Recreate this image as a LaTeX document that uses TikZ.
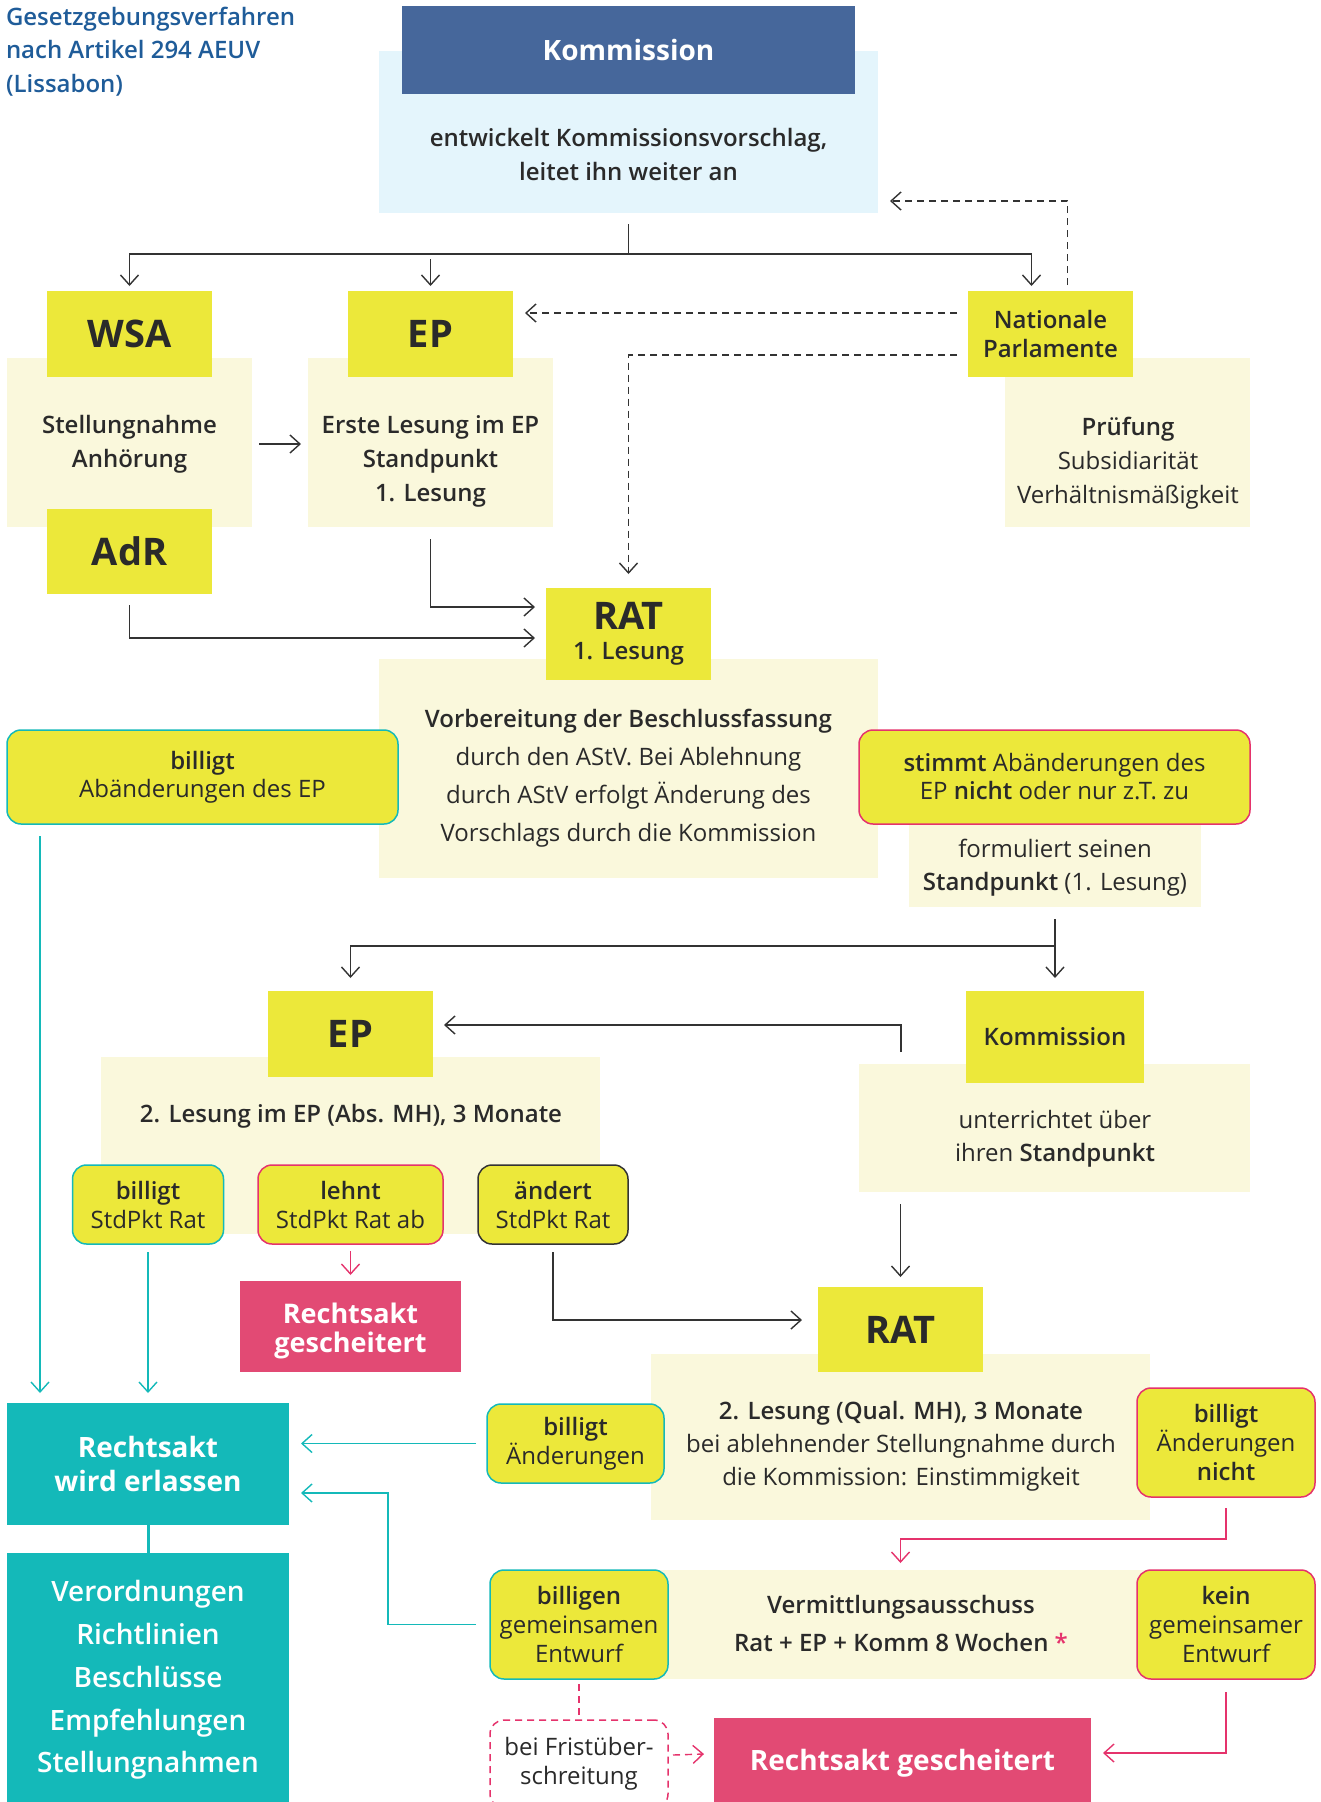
\documentclass[tikz,border=0pt]{standalone}
\usepackage{fontspec}
\setmainfont{Open Sans}
\newfontfamily\halb{Open Sans Semibold}
\usetikzlibrary{arrows.meta,calc}

\definecolor{gelb}{HTML}{ECE83A}
\definecolor{hellgelb}{HTML}{FAF8DC}
\definecolor{hellblau}{HTML}{E4F5FC}
\definecolor{dunkelblau}{HTML}{46679B}
\definecolor{tuerkis}{HTML}{14B9B9}
\definecolor{rot}{HTML}{E24A74}
\definecolor{rotlinie}{HTML}{E5336C}
\definecolor{titelblau}{HTML}{1F5C99}
\definecolor{schrift}{HTML}{2A2A2A}
\definecolor{linie}{HTML}{333333}

\newcommand{\fs}[2]{\fontsize{#1}{#2}\selectfont}
\newcommand{\sbf}[1]{{\halb #1}}

\begin{document}
\begin{tikzpicture}[x=1pt,y=-1pt,
    every node/.style={inner sep=0pt, outer sep=0pt, text=schrift},
    gr/.style 2 args={minimum width=#1pt, minimum height=#2pt},
    feld/.style={rectangle, fill=hellgelb},
    kasten/.style={rectangle, fill=gelb, align=center},
    gross/.style={kasten, font=\fs{38}{30}\bfseries},
    beschr/.style={align=center, font=\fs{24}{34}},
    wahl/.style={rectangle, rounded corners=14pt, fill=gelb, line width=1.5pt, align=center, font=\fs{24}{29}},
    weiss/.style={align=center, text=white, font=\fs{28}{34}\bfseries},
    lin/.style={draw=linie, line width=1.4pt},
    pfeil/.style={lin, -{Straight Barb[length=10pt,width=18pt]}},
    pfeilt/.style={pfeil, draw=tuerkis},
    pfeilr/.style={pfeil, draw=rotlinie},
    gestr/.style={dash pattern=on 7pt off 5pt}
  ]

  \useasboundingbox (0,0) rectangle (1321,1802);
  \clip (0,0) rectangle (1321,1802);

  % Titel
  \node[anchor=north west, align=left, text=titelblau, font=\fs{24}{33.5}\halb] (titel) at (6,7)
    {Gesetzgebungsverfahren\\nach Artikel 294 AEUV\\(Lissabon)};

  % Kommission oben
  \node[rectangle, fill=hellblau, gr={499}{162}] (komback) at (628.5,132) {};
  \node[kasten, fill=dunkelblau, gr={453}{88}, text=white, font=\fs{28}{34}\bfseries] (komhead) at (628.5,50) {Kommission};
  \node[beschr, font=\fs{24}{34}\halb] (komtext) at (628.5,154) {entwickelt Kommissionsvorschlag,\\leitet ihn weiter an};

  % erste Reihe
  \node[feld, gr={245}{169}] (wsaback) at (129.5,442.5) {};
  \node[feld, gr={245}{169}] (epback) at (430.5,442.5) {};
  \node[feld, gr={245}{169}] (npback) at (1127.5,442.5) {};
  \node[gross, gr={165}{86}] (wsa) at (129.5,334) {WSA};
  \node[gross, gr={165}{85}] (adr) at (129.5,551.5) {AdR};
  \node[gross, gr={165}{86}] (ep1) at (430.5,334) {EP};
  \node[kasten, gr={165}{86}, font=\fs{24}{29}\halb] (np) at (1050.5,334) {Nationale\\Parlamente};
  \node[beschr, font=\fs{24}{34}\halb] (wsatext) at (129.5,444) {Stellungnahme\\Anhörung};
  \node[beschr, font=\fs{24}{34}\halb] (eptext) at (430.5,461) {Erste Lesung im EP\\Standpunkt\\1. Lesung};
  \node[beschr] (nptext) at (1128,463) {\sbf{Prüfung}\\Subsidiarität\\Verhältnismäßigkeit};

  % Rat 1. Lesung
  \node[feld, gr={499}{219}] (ratback) at (628.5,768.5) {};
  \node[feld, gr={292}{107}] (formback) at (1055,853.5) {};
  \node[gross, gr={165}{92}] (rat1) at (628.5,634) {RAT\\\mdseries\halb\fs{24}{31}1. Lesung};
  \node[beschr, font=\fs{24}{38}] (rattext) at (628.5,778)
    {\sbf{Vorbereitung der Beschlussfassung}\\durch den AStV. Bei Ablehnung\\durch AStV erfolgt Änderung des\\Vorschlags durch die Kommission};
  \node[wahl, draw=tuerkis, gr={391}{94}, font=\fs{24}{28}] (billigt1) at (202.5,777) {\sbf{billigt}\\Abänderungen des EP};
  \node[wahl, draw=rotlinie, gr={391}{94}, font=\fs{24}{28}] (stimmt) at (1054.5,777)
    {\sbf{stimmt} Abänderungen des\\EP \sbf{nicht} oder nur z.T. zu};
  \node[beschr, font=\fs{24}{33}] (formtext) at (1055,867.5) {formuliert seinen\\\sbf{Standpunkt} (1. Lesung)};

  % EP 2. Lesung und Kommission
  \node[feld, gr={499}{177}] (ep2back) at (350.5,1145.5) {};
  \node[feld, gr={391}{128}] (kom2back) at (1054.5,1128) {};
  \node[gross, gr={165}{86}] (ep2) at (350.5,1034) {EP};
  \node[kasten, gr={178}{92}, font=\fs{24}{29}\halb] (kom2) at (1055,1037) {Kommission};
  \node[beschr, font=\fs{24}{34}\halb] (ep2text) at (351,1116) {2. Lesung im EP (Abs. MH), 3 Monate};
  \node[beschr, font=\fs{24}{33}] (kom2text) at (1055,1138.5) {unterrichtet über\\ihren \sbf{Standpunkt}};
  \node[wahl, draw=tuerkis, gr={151}{79}] (bStd) at (148,1204.5) {\sbf{billigt}\\StdPkt Rat};
  \node[wahl, draw=rotlinie, gr={185}{79}] (lStd) at (350.5,1204.5) {\sbf{lehnt}\\StdPkt Rat ab};
  \node[wahl, draw=linie, gr={150}{79}] (aStd) at (553,1204.5) {\sbf{ändert}\\StdPkt Rat};
  \node[rectangle, fill=rot, gr={221}{91}, weiss, font=\fs{27}{29}\bfseries] (fail1) at (350.5,1326.5) {};
  \node[weiss, font=\fs{27}{29}\bfseries] (fail1text) at (350.5,1331) {Rechtsakt\\gescheitert};

  % Rat 2. Lesung
  \node[feld, gr={499}{166}] (rat2back) at (900.5,1437) {};
  \node[gross, gr={165}{85}] (rat2) at (900.5,1329.5) {RAT};
  \node[beschr, font=\fs{24}{33}] (rat2text) at (901,1446)
    {\sbf{2. Lesung (Qual. MH), 3 Monate}\\bei ablehnender Stellungnahme durch\\die Kommission: Einstimmigkeit};
  \node[wahl, draw=tuerkis, gr={177}{79}] (bAend) at (575.5,1443.5) {\sbf{billigt}\\Änderungen};
  \node[wahl, draw=rotlinie, gr={178}{109}] (bNicht) at (1226,1442.5) {\sbf{billigt}\\Änderungen\\\sbf{nicht}};

  % Ergebnis
  \node[rectangle, fill=tuerkis, gr={282}{122}, weiss] (erlassen) at (148,1464) {Rechtsakt\\wird erlassen};
  \node[rectangle, fill=tuerkis, gr={282}{255}, weiss, font=\fs{28}{42.75}\halb] (formen) at (148,1680)
    {Verordnungen\\Richtlinien\\Beschlüsse\\Empfehlungen\\Stellungnahmen};

  % Vermittlungsausschuss
  \node[feld, gr={550}{109}] (vermback) at (875,1624.5) {};
  \node[beschr, font=\fs{24}{38}\halb] (vermtext) at (901,1623)
    {Vermittlungsausschuss\\Rat + EP + Komm 8 Wochen {\color{rotlinie}*}};
  \node[wahl, draw=tuerkis, gr={178}{109}] (bGem) at (579,1624.5) {\sbf{billigen}\\gemeinsamen\\Entwurf};
  \node[wahl, draw=rotlinie, gr={178}{109}] (kein) at (1226,1624.5) {\sbf{kein}\\gemeinsamer\\Entwurf};
  \node[wahl, fill=white, draw=rotlinie, gestr, gr={178}{88}] (frist) at (579,1764) {bei Fristüber-\\schreitung};
  \node[rectangle, fill=rot, gr={377}{90}, weiss] (fail2) at (902.5,1763) {Rechtsakt gescheitert};

  % Verbindungen oben
  \draw[lin] ($(komback.south)+(0,11)$) -- ++(0,30) coordinate (verteiler);
  \draw[pfeil] (verteiler) -| ($(wsa.north)+(0,-5)$);
  \draw[pfeil] (verteiler) -| ($(np.north)+(-19,-5)$);
  \draw[pfeil] ($(ep1.north)+(0,-32)$) -- ($(ep1.north)+(0,-5)$);
  \draw[pfeil, gestr] ($(np.north)+(17,-6)$) |- ($(komback.east)+(12,69)$);
  \draw[pfeil, gestr] ($(np.west)+(-11,-21)$) -- ($(ep1.east)+(12,-21)$);
  \draw[pfeil, gestr] ($(np.west)+(-11,21)$) -| ($(rat1.north)+(0,-14)$);
  \draw[pfeil] ($(wsaback.east)+(7,1.5)$) -- ($(epback.west)+(-7,1.5)$);
  \draw[pfeil] ($(epback.south)+(0,12)$) |- ($(rat1.west)+(-11,-27)$);
  \draw[pfeil] ($(adr.south)+(0,11)$) |- ($(rat1.west)+(-11,4)$);

  % Verbindungen Mitte
  \draw[pfeilt] ($(billigt1.south west)+(33,12)$) -- ($(erlassen.north west)+(33,-10)$);
  \draw[lin] ($(formback.south)+(0,12)$) -- ++(0,27) coordinate (gabel);
  \draw[pfeil] (gabel) -- ($(kom2.north)+(0,-13)$);
  \draw[pfeil] (gabel) -| ($(ep2.north)+(0,-13)$);
  \draw[pfeil] ($(kom2.west)+(-65,15)$) |- ($(ep2.east)+(11,-9)$);
  \draw[pfeilt] ($(bStd.south)+(0,8)$) -- ($(erlassen.north)+(0,-10)$);
  \draw[pfeilr] ($(lStd.south)+(0,7)$) -- ($(fail1.north)+(0,-6)$);
  \draw[pfeil] ($(aStd.south)+(0,8)$) |- ($(rat2.west)+(-16,-9.5)$);
  \draw[pfeil] ($(kom2back.south)+(-154,12)$) -- ($(rat2.north)+(0,-10)$);

  % Verbindungen unten
  \draw[pfeilt] ($(bAend.west)+(-11,0)$) -- ($(erlassen.east)+(12,-20.5)$);
  \draw[pfeilt] ($(bGem.west)+(-14,0)$) -- ++(-88,0) |- ($(erlassen.east)+(12,29)$);
  \draw[draw=tuerkis, line width=3pt] (erlassen.south) -- (formen.north);
  \draw[pfeilr] ($(bNicht.south)+(0,11)$) -- ++(0,31) -| ($(rat2back.south)+(0,43)$);
  \draw[lin, draw=rotlinie, gestr] ($(bGem.south)+(0,5)$) -- (frist.north);
  \draw[pfeilr, gestr] ($(frist.east)+(5,-9)$) -- ($(fail2.west)+(-10,-9)$);
  \draw[pfeilr] ($(kein.south)+(0,13)$) |- ($(fail2.east)+(12,-10)$);
\end{tikzpicture}
\end{document}
